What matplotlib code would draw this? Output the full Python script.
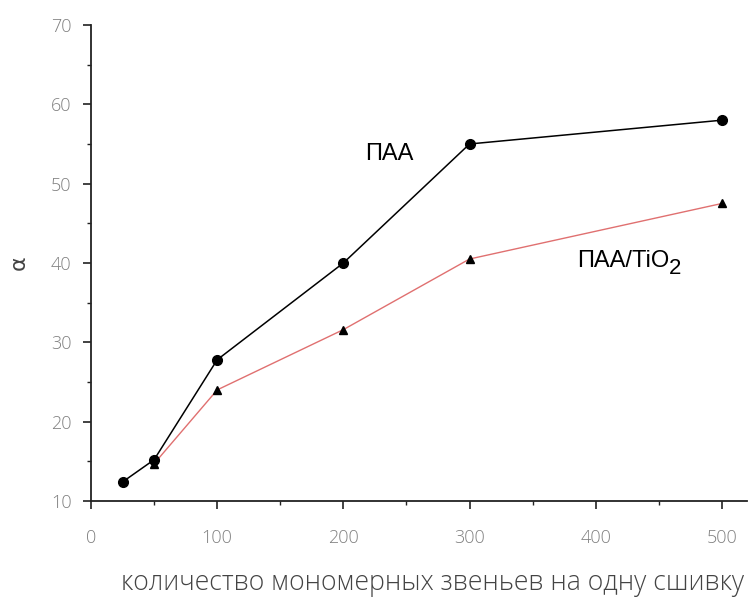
import matplotlib
matplotlib.use("Agg")
import matplotlib.pyplot as plt
from matplotlib.ticker import MultipleLocator

# data
paa_x = [25, 50, 100, 200, 300, 500]
paa_y = [12.4, 15.2, 27.8, 40.0, 55.0, 58.0]
tio2_x = [50, 100, 200, 300, 500]
tio2_y = [14.7, 24.0, 31.6, 40.5, 47.5]

fig = plt.figure(figsize=(7.49, 6.02), dpi=100)
ax = fig.add_axes([0.1215, 0.1678, 0.876, 0.7907])

ax.plot(tio2_x, tio2_y, color="#e07070", lw=1, marker="^", ms=6,
        mfc="black", mec="black", zorder=2)
ax.plot(paa_x, paa_y, color="black", lw=1.1, marker="o", ms=7,
        mfc="black", mec="black", zorder=3)

ax.set_xlim(0, 520)
ax.set_ylim(10, 70)
ax.xaxis.set_major_locator(MultipleLocator(100))
ax.xaxis.set_minor_locator(MultipleLocator(50))
ax.yaxis.set_major_locator(MultipleLocator(10))
ax.yaxis.set_minor_locator(MultipleLocator(5))

for s in ["top", "right"]:
    ax.spines[s].set_visible(False)
for s in ["left", "bottom"]:
    ax.spines[s].set_linewidth(1.3)
    ax.spines[s].set_color("#222222")

ax.tick_params(which="major", direction="out", length=6, width=1.2,
               colors="#222222", labelcolor="#808080", labelsize=13, pad=8)
ax.tick_params(which="minor", direction="out", length=3, width=1.0,
               colors="#222222")
ax.tick_params(axis="x", which="major", pad=14)

for lab in ax.get_xticklabels() + ax.get_yticklabels():
    lab.set_family("Open Sans")
    lab.set_fontweight("light")

ax.set_xlabel("количество мономерных звеньев на одну сшивку",
              fontsize=19.2, color="#444444", family="Open Sans",
              fontweight="light")
ax.xaxis.set_label_coords(0.521, -0.142)
ax.set_ylabel("α", fontsize=16, color="#444444", labelpad=16, rotation=90)

ax.text(217, 53.8, "ПАА", fontsize=17, family="Liberation Sans",
        ha="left", va="center")
t = ax.text(385, 40.3, "ПАА/TiO", fontsize=17, family="Liberation Sans",
            ha="left", va="center")
ax.annotate("2", xy=(1, 0.12), xycoords=t, fontsize=16,
            family="Liberation Sans", ha="left", va="center")

fig.savefig("out.png", dpi=100)
